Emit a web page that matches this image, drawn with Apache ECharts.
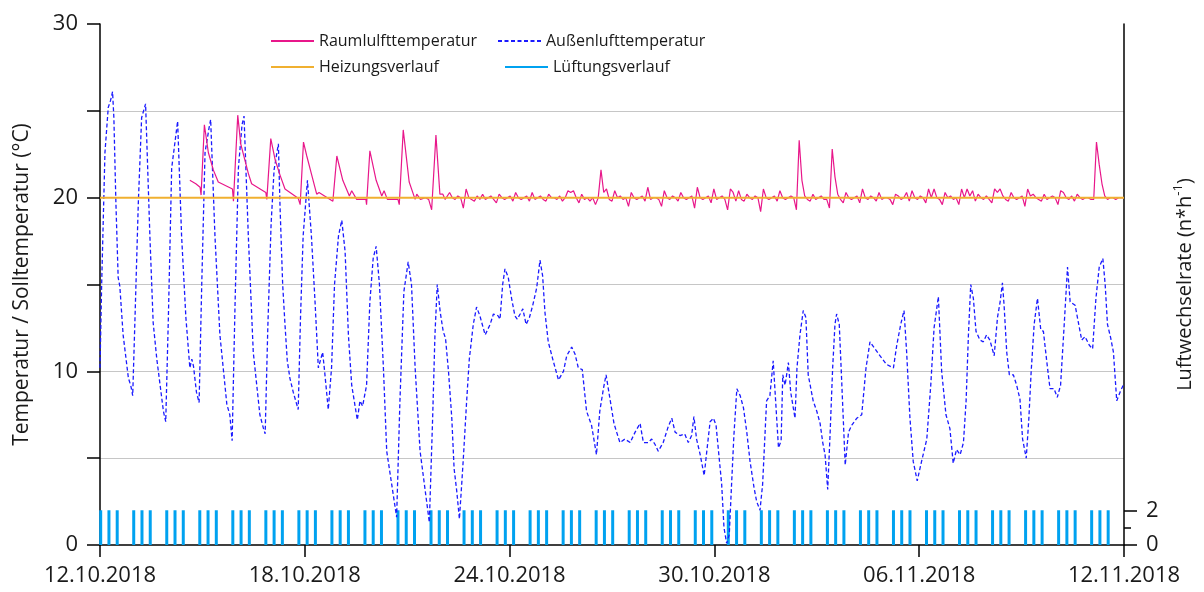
<!DOCTYPE html>
<html>
<head>
<meta charset="utf-8">
<script src="https://cdn.jsdelivr.net/npm/echarts@6/dist/echarts.min.js"></script>
<style>
  html, body { margin: 0; padding: 0; background: #fff; }
  #chart { width: 1204px; height: 592px; }
</style>
</head>
<body>
<div id="chart"></div>
<script>
// x = Tage seit 12.10.2018
var xTickLabels = ['12.10.2018', '18.10.2018', '24.10.2018', '30.10.2018', '06.11.2018', '12.11.2018'];
var xTickStep = 6.2;

// Außenlufttemperatur [Tag, °C]
var outsideTemp = [
  [0,10.2],[0.05,15.0],[0.15,22.6],[0.25,25.2],[0.32,25.6],[0.38,26.1],[0.42,24.6],[0.48,19.8],[0.55,15.4],[0.6,14.9],[0.7,12.1],[0.86,9.6],[0.93,9.2],[0.99,8.6],
  [1.06,13.1],[1.16,19.7],[1.26,24.6],[1.38,25.4],[1.51,17.8],[1.61,12.8],[1.72,10.7],[1.82,9.2],[1.92,7.7],[1.99,7.1],
  [2.07,13.1],[2.17,21.7],[2.35,24.4],[2.47,17.8],[2.6,13.1],[2.72,10.2],[2.78,10.7],[2.83,10.3],[2.92,8.8],[3.0,8.2],
  [3.08,15.0],[3.18,22.6],[3.3,24.0],[3.35,24.5],[3.48,17.8],[3.63,12.1],[3.84,8.1],[3.93,7.5],[4.0,6.0],
  [4.09,14.0],[4.19,21.7],[4.3,24.2],[4.36,24.7],[4.49,17.8],[4.64,11.1],[4.84,7.5],[4.95,6.7],[5.0,6.4],
  [5.08,12.5],[5.18,18.5],[5.27,21.6],[5.4,23.1],[5.45,19.5],[5.53,15.0],[5.6,12.7],[5.67,10.6],[5.75,9.6],[5.85,8.8],[6.0,7.8],
  [6.07,13.1],[6.15,17.8],[6.28,21.0],[6.4,17.8],[6.51,14.0],[6.61,10.2],[6.74,11.1],[6.8,10.0],[6.91,7.8],[7.01,10.2],
  [7.1,15.0],[7.22,17.8],[7.32,18.7],[7.42,16.9],[7.52,12.1],[7.62,9.2],[7.79,7.2],[7.87,8.3],[7.95,8.0],[8.07,9.2],
  [8.17,14.0],[8.27,16.5],[8.36,17.2],[8.46,15.0],[8.58,10.2],[8.68,5.4],[8.83,3.5],[8.98,1.6],
  [9.08,8.3],[9.2,14.6],[9.33,16.3],[9.43,15.0],[9.54,10.2],[9.69,5.4],[9.82,3.5],[9.97,1.3],
  [10.07,7.3],[10.14,12.1],[10.21,15.0],[10.3,13.4],[10.39,12.3],[10.46,11.9],[10.55,10.0],[10.65,7.3],[10.72,4.4],[10.8,3.1],[10.88,1.5],[10.95,3.5],[11.0,5.0],
  [11.1,8.3],[11.18,10.7],[11.3,12.7],[11.4,13.7],[11.5,13.2],[11.66,12.1],[11.81,12.7],[11.91,13.3],[12.05,13.2],[12.11,13.0],[12.19,15.0],[12.26,15.9],
  [12.36,15.4],[12.46,14.2],[12.56,13.2],[12.63,13.0],[12.72,13.3],[12.8,13.6],[12.9,12.7],[13.0,13.1],[13.1,13.8],[13.22,14.8],[13.32,16.4],[13.4,15.5],
  [13.47,13.4],[13.57,11.7],[13.72,10.6],[13.88,9.5],[14.03,10.0],[14.13,10.9],[14.28,11.4],[14.38,11.0],[14.48,10.2],[14.6,10.1],[14.73,7.7],[14.88,6.9],
  [15.03,5.2],[15.13,7.7],[15.24,9.0],[15.32,9.8],[15.44,8.4],[15.56,7.0],[15.64,6.5],[15.74,5.9],[15.89,6.1],[16.05,5.9],[16.2,6.5],[16.35,7.0],
  [16.45,5.9],[16.6,5.9],[16.7,6.1],[16.8,5.8],[16.9,5.4],[17.05,5.9],[17.2,6.8],[17.31,7.3],[17.41,6.5],[17.56,6.3],[17.7,6.4],[17.81,5.9],[17.91,6.3],
  [17.98,7.4],[18.06,6.1],[18.17,5.2],[18.29,4.0],[18.37,5.4],[18.47,7.1],[18.57,7.3],[18.65,6.9],[18.72,5.5],[18.82,3.5],[18.89,1.0],[18.97,0.1],
  [19.05,0.6],[19.12,3.5],[19.19,6.3],[19.28,9.0],[19.38,8.6],[19.48,7.9],[19.58,6.5],[19.68,4.8],[19.8,3.3],[19.88,2.5],[19.98,2.0],
  [20.06,3.5],[20.13,6.3],[20.18,8.3],[20.28,8.6],[20.38,10.6],[20.46,8.1],[20.54,5.6],[20.62,6.0],[20.67,9.8],[20.74,9.2],[20.84,10.5],[20.91,8.8],
  [21.04,7.3],[21.1,10.2],[21.19,12.1],[21.29,13.5],[21.37,13.1],[21.44,9.8],[21.59,8.3],[21.7,7.7],[21.8,7.0],[21.88,5.9],[21.95,5.2],
  [22.03,3.2],[22.1,6.3],[22.18,10.2],[22.25,12.7],[22.3,13.3],[22.38,12.7],[22.45,9.6],[22.56,4.6],[22.66,6.5],[22.76,6.9],[22.91,7.3],
  [23.06,7.5],[23.19,10.2],[23.31,11.7],[23.46,11.3],[23.61,10.9],[23.81,10.4],[24.02,10.2],[24.12,11.5],[24.24,12.7],[24.34,13.5],[24.42,11.1],
  [24.52,7.3],[24.62,4.8],[24.74,3.7],[24.87,4.8],[25.03,6.1],[25.15,9.2],[25.25,12.5],[25.38,14.3],[25.48,10.0],[25.61,7.5],[25.73,6.7],
  [25.83,4.7],[25.93,5.5],[26.04,5.2],[26.14,5.9],[26.22,8.3],[26.29,12.1],[26.36,15.0],[26.44,14.2],[26.52,12.3],[26.64,11.8],[26.74,11.7],
  [26.84,12.1],[26.94,11.8],[27.07,10.9],[27.17,13.1],[27.25,14.0],[27.32,15.1],[27.37,13.8],[27.45,11.1],[27.53,9.8],[27.65,9.8],[27.75,9.2],
  [27.85,8.4],[27.93,6.1],[28.04,5.0],[28.12,7.3],[28.19,10.0],[28.28,12.7],[28.38,14.2],[28.48,12.4],[28.56,12.3],[28.66,10.6],[28.76,9.0],
  [28.88,9.0],[28.98,8.5],[29.08,9.2],[29.19,12.7],[29.29,16.0],[29.37,14.0],[29.52,13.8],[29.62,12.8],[29.72,11.8],[29.82,12.0],[29.95,11.5],
  [30.05,11.3],[30.15,14.2],[30.25,16.0],[30.36,16.5],[30.43,15.0],[30.5,12.7],[30.6,11.9],[30.68,11.1],[30.78,8.3],[30.88,8.8],[31.0,9.3]
];

// Raumlufttemperatur, Aufheizphase [Tag, °C]
var roomTempStart = [
  [2.72,21.0],[2.9,20.8],[3.03,20.6],[3.06,20.15],[3.16,24.2],[3.28,22.6],[3.43,21.6],[3.58,20.9],[3.63,21.0],[4.01,20.5],
  [4.04,19.8],[4.17,24.75],[4.26,23.1],[4.49,21.4],[4.59,20.8],[4.63,20.9],[5.02,20.3],[5.05,19.9],[5.17,23.4],[5.3,22.2],
  [5.45,21.3],[5.6,20.5],[5.66,20.5],[6.0,19.96],[6.06,19.6],[6.16,23.2],[6.26,22.4],[6.41,21.3],[6.56,20.2],[6.63,20.3],
  [7.05,19.8],[7.17,22.4],[7.35,21.0],[7.55,20.1],[7.62,20.4],[7.77,19.9],[8.05,19.9],[8.07,19.6],[8.17,22.7],[8.36,21.0],
  [8.53,20.1],[8.6,20.4],[8.7,19.9],[9.02,19.9],[9.06,19.6],[9.18,23.9],[9.36,20.9],[9.54,19.9],[9.59,20.2],[9.7,19.9],
  [9.85,20.0],[9.95,19.9],[10.04,19.3],[10.17,23.6],[10.29,20.2],[10.38,20.2],[10.45,19.9]
];

// Raumlufttemperatur ab Tag 10.5, alle 2 Stunden
var roomTempFrom = 10.5;
var roomTempStepH = 2;
var roomTemp2h = [
  19.8, 20.3, 20.0, 19.9, 20.1, 20.0,
  19.4, 20.5, 20.0, 19.9, 19.8, 20.1, 19.9, 20.2, 19.9, 20.0, 20.1, 19.9,
  19.7, 20.2, 20.0, 19.9, 20.0, 20.1, 19.8, 20.3, 20.0, 19.9, 20.0, 20.1,
  19.8, 20.3, 19.9, 20.0, 20.1, 19.9, 19.8, 20.2, 20.0, 20.0, 19.9, 20.1,
  19.8, 20.0, 20.4, 20.3, 20.4, 20.0, 19.7, 20.2, 19.9, 20.0, 19.8, 20.0,
  19.6, 20.0, 21.6, 20.3, 20.5, 19.9, 19.8, 20.4, 20.0, 20.1, 19.9, 20.0,
  19.5, 20.3, 20.0, 19.9, 20.0, 20.1, 19.8, 20.6, 19.9, 20.0, 20.0, 19.9,
  19.5, 20.4, 20.0, 19.9, 20.1, 20.0, 19.8, 20.3, 20.0, 19.9, 20.0, 20.1,
  19.4, 20.6, 20.0, 19.9, 20.0, 20.1, 19.7, 20.5, 19.9, 20.0, 20.1, 19.9,
  19.3, 20.5, 20.3, 19.8, 20.4, 19.9, 19.8, 20.2, 20.0, 19.9, 20.1, 20.0,
  19.2, 20.5, 20.0, 19.9, 20.0, 20.1, 19.8, 20.4, 20.0, 19.9, 20.0, 20.1,
  20.0, 19.3, 23.3, 21.0, 20.1, 19.9, 19.8, 20.2, 19.9, 20.0, 20.1, 19.9,
  19.9, 19.4, 22.8, 21.2, 20.2, 19.9, 19.7, 20.3, 20.0, 19.9, 20.0, 20.1,
  19.7, 20.5, 20.0, 19.9, 20.1, 20.0, 19.8, 20.3, 19.9, 20.0, 20.0, 19.9,
  19.6, 20.2, 20.1, 19.9, 20.0, 20.3, 19.8, 20.4, 20.0, 19.9, 20.1, 20.0,
  19.7, 20.5, 20.0, 20.5, 20.0, 19.9, 19.6, 20.3, 20.0, 20.1, 19.9, 20.0,
  19.6, 20.5, 20.0, 20.5, 20.1, 20.4, 19.8, 20.2, 20.0, 19.9, 20.1, 19.9,
  19.7, 20.5, 20.3, 20.5, 20.1, 19.9, 19.8, 20.3, 20.0, 19.9, 20.0, 20.1,
  19.5, 20.5, 20.1, 20.2, 20.0, 19.9, 19.8, 20.2, 19.9, 20.0, 20.1, 20.0,
  19.6, 20.4, 20.3, 20.0, 19.9, 20.1, 19.8, 20.2, 20.0, 19.9, 20.0, 20.0,
  19.9, 19.9, 23.2, 21.9, 20.8, 20.1, 19.9, 20.0, 20.0, 19.9, 20.0, 20.0,
  20.0
];

// Solltemperatur
var heatingSetpoint = 20;
var heatingRange = [0, 31];

// Lüftung: Tage und Uhrzeiten der Lüftungsstöße, Luftwechsel n*h^-1
var ventDays = [0,1,2,3,4,5,6,7,8,9,10,11,12,13,14,15,16,17,18,19,20,21,22,23,24,25,26,27,28,29,30];
var ventHours = [0.5, 6.5, 12.5];
var ventRate = 2;

var roomTemp = roomTempStart.slice();
roomTemp2h.forEach(function (v, i) {
  roomTemp.push([roomTempFrom + i * roomTempStepH / 24, v]);
});
var heating = heatingRange.map(function (d) { return [d, heatingSetpoint]; });
var vent = [];
ventDays.forEach(function (d) {
  ventHours.forEach(function (h) { vent.push([d + h / 24, ventRate]); });
});

var FONT = '"Open Sans", "Liberation Sans", sans-serif';
var TXT = '#1a1a1a';
var legendBase = {
  orient: 'horizontal', itemWidth: 43, itemHeight: 14, padding: 0,
  selectedMode: false,
  itemStyle: { opacity: 0 },
  textStyle: { fontFamily: FONT, fontSize: 16, color: TXT }
};

var myChart = echarts.init(document.getElementById('chart'));
myChart.setOption({
  animation: false,
  backgroundColor: '#fff',
  textStyle: { fontFamily: FONT },
  grid: { left: 100, right: 80, top: 24, bottom: 47, containLabel: false, outerBoundsMode: 'none' },
  legend: [
    Object.assign({}, legendBase, { left: 270, top: 33, data: ['Raumlulfttemperatur'] }),
    Object.assign({}, legendBase, { left: 270, top: 59, data: ['Heizungsverlauf'] }),
    Object.assign({}, legendBase, { left: 497, top: 33, data: ['Außenlufttemperatur'] }),
    Object.assign({}, legendBase, {
      left: 505, top: 59, itemHeight: 2, itemStyle: { opacity: 1 },
      data: [{ name: 'Lüftungsverlauf', icon: 'rect' }]
    })
  ],
  xAxis: {
    type: 'value', min: 0, max: 31, interval: xTickStep,
    axisLine: { lineStyle: { color: '#000', width: 1.5 } },
    axisTick: { length: 12, lineStyle: { color: '#000', width: 1.5 } },
    axisLabel: {
      margin: 20, fontSize: 22, color: TXT, fontFamily: FONT,
      formatter: function (v) { return xTickLabels[Math.round(v / xTickStep)]; }
    },
    splitLine: { show: false }
  },
  yAxis: [
    {
      type: 'value', min: 0, max: 30, interval: 5, position: 'left',
      name: 'Temperatur / Solltemperatur (°C)', nameLocation: 'middle', nameGap: 67, nameRotate: 90,
      nameTextStyle: { fontSize: 21, color: TXT, fontFamily: FONT },
      axisLine: { show: true, lineStyle: { color: '#000', width: 1.5 } },
      axisTick: { show: true, length: 13, lineStyle: { color: '#000', width: 1.5 } },
      axisLabel: {
        margin: 22, fontSize: 22, color: TXT, fontFamily: FONT,
        formatter: function (v) { return v % 10 === 0 ? String(v) : ''; }
      },
      splitLine: { show: true, showMinLine: false, showMaxLine: false, lineStyle: { color: '#c6c6c6', width: 1 } }
    },
    {
      type: 'value', min: 0, max: 30, position: 'right',
      name: '{n|Luftwechselrate (n*h}{sup|-1}{n|)}', nameLocation: 'middle', nameGap: 48, nameRotate: 90,
      nameTextStyle: {
        color: TXT, fontFamily: FONT,
        rich: {
          n: { fontSize: 20, lineHeight: 26, color: TXT, fontFamily: FONT },
          sup: { fontSize: 13, lineHeight: 14, verticalAlign: 'top', color: TXT, fontFamily: FONT }
        }
      },
      axisLine: { show: true, lineStyle: { color: '#000', width: 1.5 } },
      axisTick: { show: true, length: 13, customValues: [0, 2], lineStyle: { color: '#000', width: 1.5 } },
      axisLabel: { margin: 22, fontSize: 22, color: TXT, fontFamily: FONT, customValues: [0, 2] },
      splitLine: { show: false }
    },
    {
      type: 'value', min: 0, max: 30, position: 'right',
      axisLine: { show: false },
      axisTick: { show: true, length: 7, customValues: [1], lineStyle: { color: '#000', width: 1.5 } },
      axisLabel: { show: false },
      splitLine: { show: false }
    }
  ],
  series: [
    {
      name: 'Lüftungsverlauf', type: 'bar', yAxisIndex: 1, barWidth: 3,
      itemStyle: { color: '#00a2f0' },
      data: vent
    },
    {
      name: 'Außenlufttemperatur', type: 'line', symbol: 'none',
      lineStyle: { color: '#1a1aff', width: 1.3, type: [4, 2.5] },
      itemStyle: { color: '#1a1aff' },
      data: outsideTemp
    },
    {
      name: 'Raumlulfttemperatur', type: 'line', symbol: 'none',
      lineStyle: { color: '#e8178a', width: 1.2 },
      itemStyle: { color: '#e8178a' },
      data: roomTemp
    },
    {
      name: 'Heizungsverlauf', type: 'line', symbol: 'none',
      lineStyle: { color: '#f0b030', width: 2 },
      itemStyle: { color: '#f0b030' },
      data: heating
    }
  ]
});
window.addEventListener('resize', function () { myChart.resize(); });
</script>
</body>
</html>
